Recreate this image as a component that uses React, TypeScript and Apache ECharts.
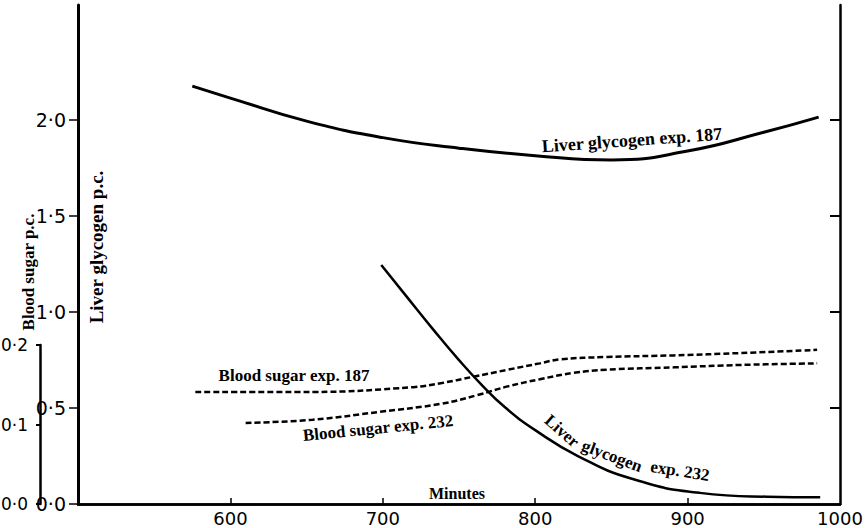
import React, { useEffect, useRef } from "react";
import * as echarts from "echarts";

// Time axis (minutes)
const xTicks = [600, 700, 800, 900];
const xLabels = [600, 700, 800, 900, 1000];
const liverTicks = [0, 0.5, 1.0, 1.5, 2.0];
const liverRightTicks = [0.5, 1.0, 1.5, 2.0];
const sugarTicks = [0, 0.1, 0.2];

// Liver glycogen exp. 187 (p.c.)
const liver187Minutes = [575, 600, 650, 700, 750, 800, 850, 900, 950, 986];
const liver187Values = [2.177, 2.115, 1.995, 1.909, 1.854, 1.815, 1.793, 1.839, 1.937, 2.016];

// Liver glycogen exp. 232 (p.c.)
const liver232Minutes = [699, 715, 733, 750, 765, 780, 800, 828, 864, 908, 952, 987];
const liver232Values = [1.245, 1.087, 0.91, 0.75, 0.62, 0.505, 0.385, 0.25, 0.13, 0.058, 0.038, 0.035];

// Blood sugar exp. 187 (p.c.)
const sugar187Minutes = [577, 654, 720, 738, 759, 782, 803, 816, 847, 891, 935, 985];
const sugar187Values = [0.141, 0.141, 0.147, 0.152, 0.16, 0.169, 0.177, 0.182, 0.185, 0.187, 0.19, 0.194];

// Blood sugar exp. 232 (p.c.)
const sugar232Minutes = [610, 654, 698, 738, 762, 782, 803, 825, 847, 891, 935, 985];
const sugar232Values = [0.102, 0.106, 0.116, 0.126, 0.137, 0.148, 0.157, 0.165, 0.169, 0.172, 0.175, 0.177];

const pair = (xs: number[], ys: number[]) => xs.map((x, i) => [x, ys[i]]);
const dot = (v: number) => v.toFixed(1).replace(".", "\u00B7");

const SANS = "DejaVu Sans";
const SERIF = "Liberation Serif";

export default function App() {
  const ref = useRef<HTMLDivElement>(null);
  useEffect(() => {
    if (!ref.current) return;
    const chart = echarts.init(ref.current, null, { renderer: "svg" });
    const serifText = (text: string, x: number, y: number, rotation = 0, size = 17) => ({
      type: "text",
      x,
      y,
      rotation,
      style: {
        text,
        fill: "#000",
        font: `bold ${size}px "${SERIF}"`,
        align: "center",
        verticalAlign: "middle",
      },
    });
    chart.setOption({
      animation: false,
      backgroundColor: "#fff",
      grid: [
        { left: 78, right: 27, top: 5, bottom: 24 },
        { left: 39, width: 1, top: 345, bottom: 24 },
      ],
      xAxis: [
        {
          type: "value",
          gridIndex: 0,
          position: "bottom",
          min: 500,
          max: 1000,
          interval: 100,
          axisLine: { lineStyle: { color: "#000", width: 2.5 } },
          axisTick: { show: true, inside: true, length: 6, customValues: xTicks, lineStyle: { color: "#000", width: 1.5 } },
          axisLabel: {
            customValues: xLabels,
            formatter: (v: number) => String(v),
            color: "#000",
            fontFamily: SANS,
            fontSize: 18,
            margin: 5,
          },
          splitLine: { show: false },
        },
        {
          type: "value",
          gridIndex: 0,
          position: "top",
          min: 500,
          max: 1000,
          axisLine: { show: true, lineStyle: { color: "#000", width: 2.5 } },
          axisTick: { show: false },
          axisLabel: { show: false },
          splitLine: { show: false },
        },
        {
          type: "value",
          gridIndex: 1,
          show: false,
          min: 0,
          max: 1,
        },
      ],
      yAxis: [
        {
          type: "value",
          gridIndex: 0,
          position: "left",
          min: 0,
          max: 2.6,
          interval: 0.5,
          axisLine: { show: true, lineStyle: { color: "#000", width: 3 } },
          axisTick: { show: true, length: 9, customValues: liverTicks, lineStyle: { color: "#000", width: 1.5 } },
          axisLabel: { customValues: liverTicks, formatter: dot, color: "#000", fontFamily: SANS, fontSize: 19, margin: 12 },
          splitLine: { show: false },
        },
        {
          type: "value",
          gridIndex: 0,
          position: "right",
          min: 0,
          max: 2.6,
          interval: 0.5,
          axisLine: { show: true, lineStyle: { color: "#000", width: 2.5 } },
          axisTick: { show: true, inside: true, length: 10, customValues: liverRightTicks, lineStyle: { color: "#000", width: 2 } },
          axisLabel: { show: false },
          splitLine: { show: false },
        },
        {
          type: "value",
          gridIndex: 0,
          show: false,
          min: 0,
          max: 0.628,
        },
        {
          type: "value",
          gridIndex: 1,
          position: "left",
          min: 0,
          max: 0.2,
          interval: 0.1,
          axisLine: { show: true, lineStyle: { color: "#000", width: 2.5 } },
          axisTick: { show: true, length: 4, customValues: sugarTicks, lineStyle: { color: "#000", width: 2 } },
          axisLabel: { customValues: sugarTicks, formatter: dot, color: "#000", fontFamily: SANS, fontSize: 17, margin: 12 },
          splitLine: { show: false },
        },
      ],
      series: [
        {
          name: "Liver glycogen exp. 187",
          type: "line",
          xAxisIndex: 0,
          yAxisIndex: 0,
          data: pair(liver187Minutes, liver187Values),
          smooth: 0.5,
          showSymbol: false,
          lineStyle: { color: "#000", width: 3 },
        },
        {
          name: "Liver glycogen exp. 232",
          type: "line",
          xAxisIndex: 0,
          yAxisIndex: 0,
          data: pair(liver232Minutes, liver232Values),
          smooth: 0.5,
          showSymbol: false,
          lineStyle: { color: "#000", width: 2.5 },
        },
        {
          name: "Blood sugar exp. 187",
          type: "line",
          xAxisIndex: 0,
          yAxisIndex: 2,
          data: pair(sugar187Minutes, sugar187Values),
          smooth: 0.4,
          showSymbol: false,
          lineStyle: { color: "#000", width: 2.5, type: [6, 3] },
        },
        {
          name: "Blood sugar exp. 232",
          type: "line",
          xAxisIndex: 0,
          yAxisIndex: 2,
          data: pair(sugar232Minutes, sugar232Values),
          smooth: 0.4,
          showSymbol: false,
          lineStyle: { color: "#000", width: 2.5, type: [6, 3] },
        },
      ],
      graphic: [
        serifText("Liver glycogen exp. 187", 632, 140, 0.07, 18),
        serifText("Liver", 562, 431, -0.72, 17),
        serifText("glycogen", 612, 456, -0.36, 17),
        serifText("exp. 232", 680, 471, -0.16, 17),
        serifText("Blood sugar exp. 187", 294, 375, 0, 17),
        serifText("Blood sugar exp. 232", 378, 428, 0.1, 17),
        serifText("Minutes", 457, 493, 0, 16),
        serifText("Liver glycogen p.c.", 96, 247, Math.PI / 2, 19),
        serifText("Blood sugar p.c.", 28, 272, Math.PI / 2, 17),
      ],
    });
    return () => chart.dispose();
  }, []);
  return (
    <div
      ref={ref}
      style={{ position: "fixed", left: 0, top: 0, width: 867, height: 528, background: "#fff" }}
    />
  );
}
